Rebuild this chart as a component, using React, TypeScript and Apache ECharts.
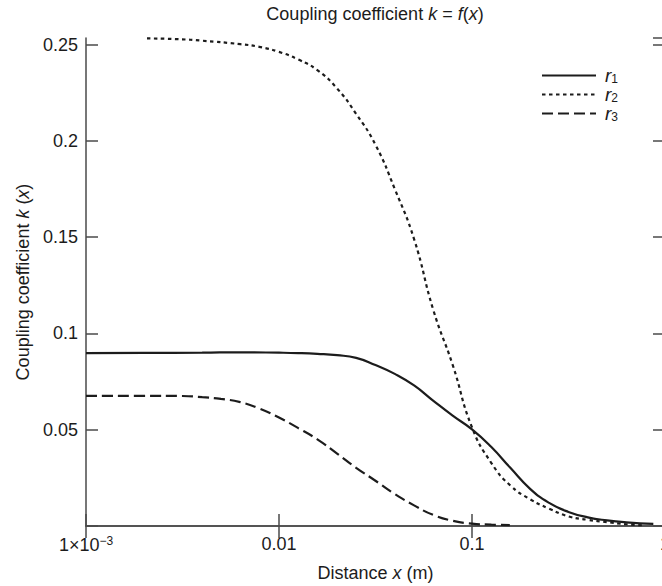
import React, { useEffect, useRef } from "react";
import * as echarts from "echarts";

const xTicks = [0.001, 0.01, 0.1, 1];
const yTicks = [0.05, 0.1, 0.15, 0.2, 0.25];

const r1X = [0.001, 0.002, 0.004, 0.0063, 0.01, 0.0126, 0.0158, 0.02, 0.0251, 0.0316, 0.0398, 0.0501, 0.0631, 0.0794, 0.1, 0.126, 0.158, 0.2, 0.251, 0.316, 0.398, 0.501, 0.631, 0.87];
const r1Y = [0.0898, 0.0899, 0.09, 0.0902, 0.09, 0.0898, 0.0894, 0.0887, 0.0873, 0.0836, 0.079, 0.073, 0.065, 0.0573, 0.0502, 0.041, 0.0302, 0.0193, 0.012, 0.0073, 0.0045, 0.0029, 0.0019, 0.0011];

const r2X = [0.00207, 0.003, 0.004, 0.0063, 0.0079, 0.01, 0.0126, 0.0158, 0.02, 0.0251, 0.0316, 0.0398, 0.0501, 0.0631, 0.0794, 0.1, 0.126, 0.158, 0.2, 0.251, 0.316, 0.398, 0.501, 0.631, 0.76];
const r2Y = [0.2532, 0.2528, 0.252, 0.2502, 0.2488, 0.2462, 0.2422, 0.2367, 0.2272, 0.214, 0.198, 0.175, 0.149, 0.112, 0.0837, 0.0512, 0.0327, 0.021, 0.0139, 0.009, 0.005, 0.0032, 0.002, 0.0009, 0.0004];

const r3X = [0.001, 0.002, 0.00316, 0.004, 0.005, 0.0063, 0.0079, 0.01, 0.0126, 0.0158, 0.02, 0.0251, 0.0316, 0.0398, 0.0501, 0.0631, 0.0794, 0.1, 0.126, 0.157];
const r3Y = [0.0676, 0.0676, 0.0675, 0.0669, 0.066, 0.0643, 0.061, 0.0563, 0.0508, 0.045, 0.0376, 0.0302, 0.0235, 0.0166, 0.0107, 0.0057, 0.0027, 0.0012, 0.0007, 0.0005];

const seriesNames = ["r1", "r2", "r3"];

const FONT = "'Liberation Sans', Arial, Helvetica, sans-serif";
const INK = "#1c1c1c";
const AXIS = "#4a4a4a";

const zip = (xs: number[], ys: number[]) => xs.map((x, i) => [x, ys[i]]);

export default function App() {
  const ref = useRef<HTMLDivElement>(null);
  useEffect(() => {
    if (!ref.current) return;
    const chart = echarts.init(ref.current, undefined, { renderer: "svg" });
    const xMin = xTicks[0];
    const xMax = xTicks[xTicks.length - 1];
    const axisLine = { show: true, lineStyle: { color: AXIS, width: 1.5 } };
    const tick = { show: true, inside: true, length: 12, lineStyle: { color: AXIS, width: 1.5 } };
    const isMajor = (v: number) => yTicks.some((t) => Math.abs(t - v) < 1e-9);
    const xLabel = (v: number) => {
      if (Math.abs(v - 0.001) < 1e-12) return "1×10{sup|−3}";
      const m = xTicks.find((t) => Math.abs(t - v) / t < 1e-6);
      return m === undefined ? "" : String(m);
    };
    const italic = { fontStyle: "italic", fontSize: 18, fontFamily: FONT, color: INK };
    const lineStyleFor = (type: any, width: number) => ({ color: INK, width, type });
    const mkSeries = (i: number, xs: number[], ys: number[], type: any) => ({
      name: seriesNames[i],
      type: "line",
      data: zip(xs, ys),
      showSymbol: false,
      symbol: "none",
      smooth: 0.5,
      lineStyle: lineStyleFor(type, 2.2),
      itemStyle: { color: INK },
    });
    chart.setOption({
      animation: false,
      textStyle: { fontFamily: FONT },
      title: {
        text: "Coupling coefficient {i|k} = {i|f}({i|x})",
        left: 375,
        top: 5,
        textAlign: "center",
        padding: 0,
        textStyle: {
          fontFamily: FONT,
          fontWeight: "normal",
          fontSize: 18,
          color: INK,
          rich: { i: italic },
        },
      },
      legend: {
        orient: "vertical",
        left: 541,
        top: 66,
        padding: 0,
        itemWidth: 54,
        itemHeight: 12,
        itemGap: 0,
        data: seriesNames,
        itemStyle: { opacity: 0 },
        formatter: (name: string) => `{r|${name[0]}}{s|${name.slice(1)}}`,
        textStyle: {
          fontFamily: FONT,
          color: INK,
          rich: {
            r: { fontStyle: "italic", fontSize: 19, lineHeight: 18.5, fontFamily: FONT, color: INK, padding: [0, 0, 0, 4] },
            s: { fontSize: 12, lineHeight: 10, fontFamily: FONT, color: INK, verticalAlign: "bottom" },
          },
        },
      },
      grid: { left: 86, top: 38, right: -3, bottom: 60, containLabel: false, outerBoundsMode: "none" },
      xAxis: [
        {
          type: "log",
          logBase: 10,
          min: xMin,
          max: xMax,
          position: "bottom",
          name: "Distance {i|x} (m)",
          nameLocation: "middle",
          nameGap: 38,
          nameTextStyle: {
            fontFamily: FONT,
            fontSize: 18,
            color: INK,
            rich: { i: italic },
          },
          axisLine,
          axisTick: tick,
          minorTick: { show: false },
          splitLine: { show: false },
          axisLabel: {
            show: true,
            margin: 9,
            fontFamily: FONT,
            fontSize: 18,
            color: INK,
            showMinLabel: true,
            showMaxLabel: true,
            hideOverlap: false,
            formatter: xLabel,
            rich: { sup: { fontSize: 12, fontFamily: FONT, color: INK, verticalAlign: "top", padding: [0, 0, 8, 0] } },
          },
        },
        {
          type: "log",
          logBase: 10,
          min: xMin,
          max: xMax,
          position: "top",
          axisLine,
          axisTick: tick,
          splitLine: { show: false },
          axisLabel: { show: false },
        },
      ],
      yAxis: [
        {
          type: "value",
          min: 0,
          max: 0.2534,
          interval: 0.05,
          position: "left",
          name: "Coupling coefficient {i|k} ({i|x})",
          nameLocation: "middle",
          nameGap: 54,
          nameTextStyle: {
            fontFamily: FONT,
            fontSize: 18,
            color: INK,
            rich: { i: italic },
          },
          axisLine,
          axisTick: tick,
          splitLine: { show: false },
          axisLabel: {
            margin: 8,
            fontFamily: FONT,
            fontSize: 18,
            color: INK,
            showMaxLabel: false,
            formatter: (v: number) => (v > 0 && isMajor(v) ? String(+v.toFixed(2)) : ""),
          },
        },
        {
          type: "value",
          min: 0,
          max: 0.2534,
          interval: 0.05,
          position: "right",
          axisLine,
          axisTick: tick,
          splitLine: { show: false },
          axisLabel: { show: false },
        },
      ],
      series: [
        mkSeries(0, r1X, r1Y, "solid"),
        mkSeries(1, r2X, r2Y, [3.5, 3.5]),
        mkSeries(2, r3X, r3Y, [11, 5]),
      ],
    });
    return () => chart.dispose();
  }, []);
  return (
    <div
      ref={ref}
      style={{ position: "fixed", left: 0, top: 0, width: 662, height: 586, background: "#fff" }}
    />
  );
}
